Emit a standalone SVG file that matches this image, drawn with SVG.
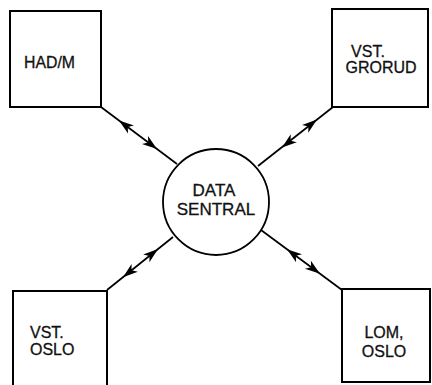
<svg xmlns="http://www.w3.org/2000/svg" xmlns:xlink="http://www.w3.org/1999/xlink" width="432" height="385" viewBox="0 0 432 385">
<style>
.box{fill:none;stroke:#000;stroke-width:2}
.ln{fill:none;stroke:#000;stroke-width:1.7}
.t{font-family:"Liberation Sans","DejaVu Sans",sans-serif;font-size:16px;fill:#111;stroke:#111;stroke-width:0.3}
.tc{text-anchor:middle}
</style>
<defs>
<path id="ah" d="M0,0 L-15,-5 L-11,0 L-15,5 Z" fill="#000"/>
</defs>
<rect width="432" height="385" fill="#fff"/>
<g id="connectors">
<line class="ln" x1="101" y1="107" x2="177" y2="164"/>
<use xlink:href="#ah" transform="translate(119,120.5) rotate(216.9)"/>
<use xlink:href="#ah" transform="translate(157,149) rotate(36.9)"/>
<line class="ln" x1="333" y1="107" x2="258" y2="166"/>
<use xlink:href="#ah" transform="translate(317,119.6) rotate(-38.2)"/>
<use xlink:href="#ah" transform="translate(282,147.5) rotate(141.8)"/>
<line class="ln" x1="173" y1="237" x2="107" y2="290"/>
<use xlink:href="#ah" transform="translate(158,249) rotate(-38.8)"/>
<use xlink:href="#ah" transform="translate(123,277.2) rotate(141.2)"/>
<line class="ln" x1="261" y1="230" x2="342" y2="290"/>
<use xlink:href="#ah" transform="translate(287,249.3) rotate(216.5)"/>
<use xlink:href="#ah" transform="translate(320,273.7) rotate(36.5)"/>
</g>
<g id="hadm">
<rect class="box" x="10" y="11" width="91" height="96"/>
<text class="t" x="24" y="68" textLength="51" lengthAdjust="spacingAndGlyphs">HAD/M</text>
</g>
<g id="grorud">
<rect class="box" x="332" y="9" width="96" height="98"/>
<text class="t tc" x="368" y="57">VST.</text>
<text class="t tc" x="381" y="73">GRORUD</text>
</g>
<g id="sentral">
<circle cx="216" cy="202" r="53" fill="none" stroke="#000" stroke-width="1.8"/>
<text class="t tc" x="214" y="196" style="font-size:17px">DATA</text>
<text class="t tc" x="216" y="215" style="font-size:17px">SENTRAL</text>
</g>
<g id="vstoslo">
<path class="box" d="M13,385 V291 H107 V385"/>
<text class="t" x="30" y="338">VST.</text>
<text class="t" x="30" y="355">OSLO</text>
</g>
<g id="lomoslo">
<rect class="box" x="342" y="289" width="88" height="93"/>
<text class="t tc" x="384" y="338">LOM,</text>
<text class="t tc" x="384" y="357">OSLO</text>
</g>
</svg>
